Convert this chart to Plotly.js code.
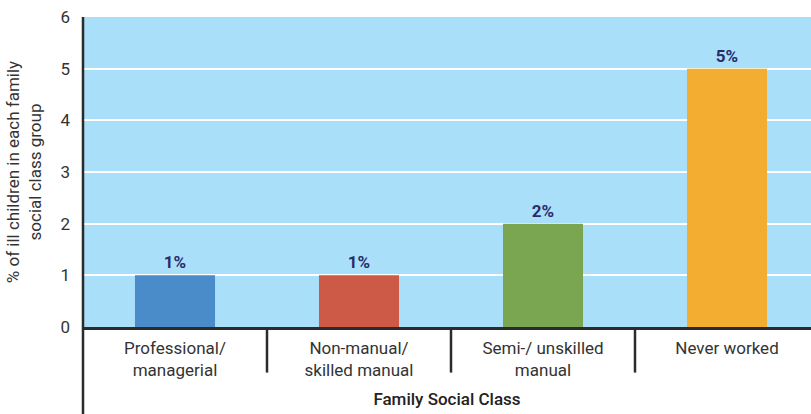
<!DOCTYPE html>
<html>
<head>
<meta charset="utf-8">
<script src="https://cdn.plot.ly/plotly-3.0.1.min.js"></script>
<style>html,body{margin:0;padding:0;background:#fff;overflow:hidden}#chart{width:811px;height:414px}</style>
</head>
<body>
<div id="chart"></div>
<script>
const categories = ["Professional/<br>managerial", "Non-manual/<br>skilled manual", "Semi-/ unskilled<br>manual", "Never worked"];
const values = [1, 1, 2, 5];
const valueLabels = ["1%", "1%", "2%", "5%"];
const barColors = ["#4a8bca", "#cd5a46", "#7aa652", "#f3ae31"];
const yTicks = [0, 1, 2, 3, 4, 5, 6];

const font = "Roboto, 'Noto Sans', sans-serif";
const dark = "#2b2b2b";

const trace = {
  type: "bar",
  x: [0, 1, 2, 3],
  y: values,
  text: valueLabels,
  textposition: "outside",
  textfont: {family: font, size: 17, color: "#2b2d6b", weight: 700},
  marker: {color: barColors},
  width: 0.435,
  cliponaxis: false,
  hoverinfo: "skip"
};

const shapes = [];
for (let i = 0; i < categories.length - 1; i++) {
  shapes.push({type: "line", xref: "x", yref: "paper", x0: i + 0.5, x1: i + 0.5, y0: 0, y1: -0.147,
    line: {color: dark, width: 2.5}});
}
shapes.push({type: "line", xref: "paper", yref: "paper", x0: 0, x1: 0, y0: 1, y1: -0.29,
  line: {color: dark, width: 2.5}});

const layout = {
  width: 811, height: 414,
  margin: {l: 83, r: 0, t: 17, b: 87},
  paper_bgcolor: "#ffffff",
  plot_bgcolor: "#aadff9",
  showlegend: false,
  font: {family: font, color: "#333333", size: 17},
  xaxis: {
    range: [-0.5, 3.4565],
    tickvals: [0, 1, 2, 3],
    ticktext: categories,
    showgrid: false, zeroline: false,
    showline: true, linecolor: dark, linewidth: 2.5,
    ticks: "",
    ticklabelstandoff: 4,
    tickfont: {size: 17, color: "#333333"},
    title: {text: "Family Social Class", font: {size: 17, color: "#222222", weight: 500}, standoff: 14},
    fixedrange: true
  },
  yaxis: {
    range: [0, 6],
    tickvals: yTicks,
    showgrid: true, gridcolor: "#ffffff", gridwidth: 2,
    zeroline: false,
    showline: false,
    ticks: "",
    ticklabelstandoff: 12,
    tickfont: {size: 17, color: "#333333"},
    title: {text: "% of ill children in each family<br>social class group", font: {size: 17, color: "#333333"}, standoff: 14},
    fixedrange: true
  },
  shapes: shapes
};

Plotly.newPlot("chart", [trace], layout, {displayModeBar: false, staticPlot: true});
</script>
</body>
</html>
